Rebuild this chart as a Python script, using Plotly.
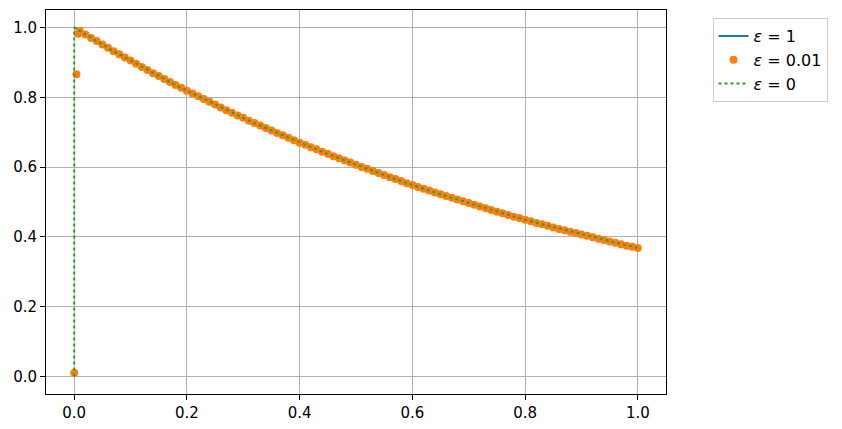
import plotly.graph_objects as go

# x grid (0.00 .. 1.00 step 0.01) and values
x_grid = [round(i * 0.01, 2) for i in range(101)]
y_outer = [
    1.000, 0.990, 0.980, 0.970, 0.961, 0.951, 0.942, 0.932, 0.923, 0.914,
    0.905, 0.896, 0.887, 0.878, 0.869, 0.861, 0.852, 0.844, 0.835, 0.827,
    0.819, 0.811, 0.803, 0.795, 0.787, 0.779, 0.771, 0.763, 0.756, 0.748,
    0.741, 0.733, 0.726, 0.719, 0.712, 0.705, 0.698, 0.691, 0.684, 0.677,
    0.670, 0.664, 0.657, 0.651, 0.644, 0.638, 0.631, 0.625, 0.619, 0.613,
    0.607, 0.600, 0.595, 0.589, 0.583, 0.577, 0.571, 0.566, 0.560, 0.554,
    0.549, 0.543, 0.538, 0.533, 0.527, 0.522, 0.517, 0.512, 0.507, 0.502,
    0.497, 0.492, 0.487, 0.482, 0.477, 0.472, 0.468, 0.463, 0.458, 0.454,
    0.449, 0.445, 0.440, 0.436, 0.432, 0.427, 0.423, 0.419, 0.415, 0.411,
    0.407, 0.403, 0.399, 0.395, 0.391, 0.387, 0.383, 0.379, 0.375, 0.372,
    0.368,
]

# epsilon = 1 : blue solid
x_eps1 = x_grid
y_eps1 = y_outer

# epsilon = 0.01 : orange dots (boundary layer near x = 0)
x_eps001 = [0.0, 0.004, 0.007] + x_grid[1:]
y_eps001 = [0.011, 0.866, 0.982] + y_outer[1:]

# epsilon = 0 : green dotted (jumps from 0 at x = 0)
x_eps0 = [0.0] + x_grid
y_eps0 = [0.0] + y_outer

x_ticks = [0.0, 0.2, 0.4, 0.6, 0.8, 1.0]
y_ticks = [0.0, 0.2, 0.4, 0.6, 0.8, 1.0]

fig = go.Figure()
fig.add_trace(go.Scatter(x=x_eps1, y=y_eps1, mode="lines", name="<i>ε</i> = 1",
                         line=dict(color="#1f77b4", width=2)))
fig.add_trace(go.Scatter(x=x_eps001, y=y_eps001, mode="markers", name="<i>ε</i> = 0.01",
                         marker=dict(color="#ff7f0e", size=8, line=dict(width=0))))
fig.add_trace(go.Scatter(x=x_eps0, y=y_eps0, mode="lines", name="<i>ε</i> = 0",
                         line=dict(color="#2ca02c", width=2, dash="dot")))

axis_common = dict(
    showgrid=True, gridcolor="#b0b0b0", gridwidth=0.8,
    showline=True, linecolor="black", linewidth=1, mirror=True,
    ticks="outside", ticklen=5, tickcolor="black", zeroline=False,
    tickfont=dict(size=15, color="black"), automargin=False,
)

fig.update_xaxes(range=[-0.05, 1.05], tickvals=x_ticks,
                 ticktext=[f"{v:.1f}" for v in x_ticks], **axis_common)
fig.update_yaxes(range=[-0.05, 1.05], tickvals=y_ticks,
                 ticktext=[f"{v:.1f}" for v in y_ticks], **axis_common)

# page body has an 8px margin, so the figure is 8px smaller and offset
fig.update_layout(
    width=834, height=421,
    margin=dict(l=38, r=176, t=2, b=35),
    plot_bgcolor="white", paper_bgcolor="white",
    font=dict(family="DejaVu Sans", size=15, color="black"),
    showlegend=True,
    legend=dict(x=1.075, y=0.979, xanchor="left", yanchor="top",
                bordercolor="#cccccc", borderwidth=1, bgcolor="white",
                font=dict(size=16), tracegroupgap=0),
)

fig.write_html("out.html")
